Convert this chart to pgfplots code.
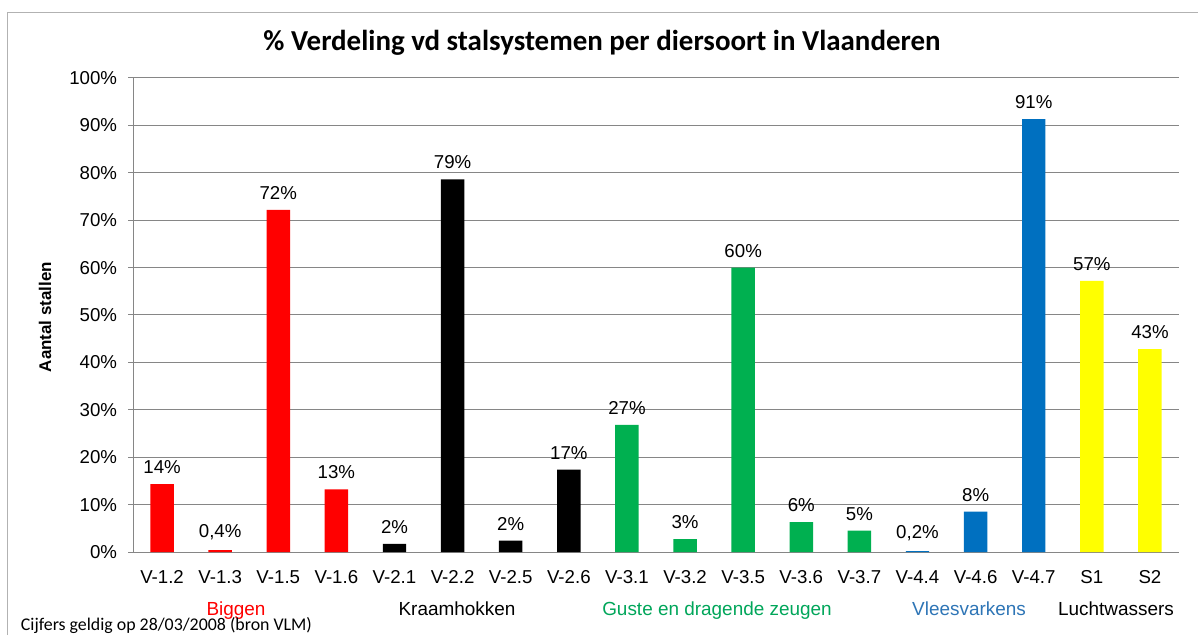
\documentclass[border=0pt]{standalone}
\usepackage{fontspec}
\setmainfont{Liberation Sans}
\newfontfamily\calibri{Carlito}
\usepackage{pgfplots}
\pgfplotsset{compat=1.18}
\definecolor{xred}{RGB}{255,0,0}
\definecolor{xgreen}{RGB}{0,176,80}
\definecolor{xblue}{RGB}{0,112,192}
\definecolor{xyellow}{RGB}{255,255,0}
\definecolor{gridgray}{RGB}{134,134,134}
\definecolor{lblue}{RGB}{46,117,182}
\definecolor{lgreen}{RGB}{0,166,90}
\begin{document}
\begin{tikzpicture}[x=0.75pt,y=0.75pt]
\useasboundingbox[fill=white] (0,0) rectangle (1198,635);
\draw[gray!60, line width=0.75pt] (7,0) -- (7,622) -- (1198,622);
\begin{axis}[
  at={(99.75pt,62.25pt)}, anchor=south west, scale only axis,
  width=784.5pt, height=355.5pt,
  xmin=-0.5, xmax=17.5, ymin=0, ymax=100,
  axis x line*=bottom, axis y line*=left,
  axis line style={gridgray, line width=0.75pt, -},
  ymajorgrids, grid style={gridgray, line width=0.75pt},
  ytick={0,10,...,100},
  yticklabels={0\%,10\%,20\%,30\%,40\%,50\%,60\%,70\%,80\%,90\%,100\%},
  tick align=outside, major tick length=3.75pt,
  ytick style={gridgray, line width=0.75pt},
  xtick style={draw=none},
  xtick={0,...,17},
  xticklabels={V-1.2,V-1.3,V-1.5,V-1.6,V-2.1,V-2.2,V-2.5,V-2.6,V-3.1,V-3.2,V-3.5,V-3.6,V-3.7,V-4.4,V-4.6,V-4.7,S1,S2},
  tick label style={font=\fontsize{14}{16}\selectfont, inner sep=0pt},
  yticklabel style={anchor=east, xshift=-8pt},
  xticklabel style={anchor=north, yshift=-10pt},
  point meta=explicit symbolic,
  every node near coord/.style={font=\fontsize{14}{16}\selectfont, inner sep=0pt, anchor=south, yshift=7.5pt, text=black},
  clip=false,
]
\addplot[ybar, bar width=17.6pt, fill=xred, draw=none, nodes near coords] coordinates {
  (0,14.3) [14\%]
  (1,0.4) [0,4\%]
  (2,72.2) [72\%]
  (3,13.2) [13\%]
};
\addplot[ybar, bar width=17.6pt, fill=black, draw=none, nodes near coords] coordinates {
  (4,1.7) [2\%]
  (5,78.6) [79\%]
  (6,2.4) [2\%]
  (7,17.4) [17\%]
};
\addplot[ybar, bar width=17.6pt, fill=xgreen, draw=none, nodes near coords] coordinates {
  (8,26.8) [27\%]
  (9,2.7) [3\%]
  (10,60.0) [60\%]
  (11,6.3) [6\%]
  (12,4.5) [5\%]
};
\addplot[ybar, bar width=17.6pt, fill=xblue, draw=none, nodes near coords] coordinates {
  (13,0.2) [0,2\%]
  (14,8.5) [8\%]
  (15,91.3) [91\%]
};
\addplot[ybar, bar width=17.6pt, fill=xyellow, draw=none, nodes near coords] coordinates {
  (16,57.2) [57\%]
  (17,42.8) [43\%]
};
\end{axis}
\node[anchor=base, font=\calibri\bfseries\fontsize{21.7}{26}\selectfont] at (602,584.3) {\% Verdeling vd stalsystemen per diersoort in Vlaanderen};
\node[rotate=90, font=\bfseries\fontsize{12.7}{15}\selectfont] at (45,318) {Aantal stallen};
\begin{scope}[every node/.style={anchor=base, font=\fontsize{14.2}{16}\selectfont}]
\node[text=xred] at (236,20) {Biggen};
\node[text=black] at (457,20) {Kraamhokken};
\node[text=lgreen] at (717,20) {Guste en dragende zeugen};
\node[text=lblue] at (969,20) {Vleesvarkens};
\node[text=black] at (1116,20) {Luchtwassers};
\end{scope}
\node[anchor=base west, inner sep=0pt, font=\calibri\fontsize{13.4}{15}\selectfont] at (20.7,4.3) {Cijfers geldig op 28/03/2008 (bron VLM)};
\end{tikzpicture}
\end{document}
